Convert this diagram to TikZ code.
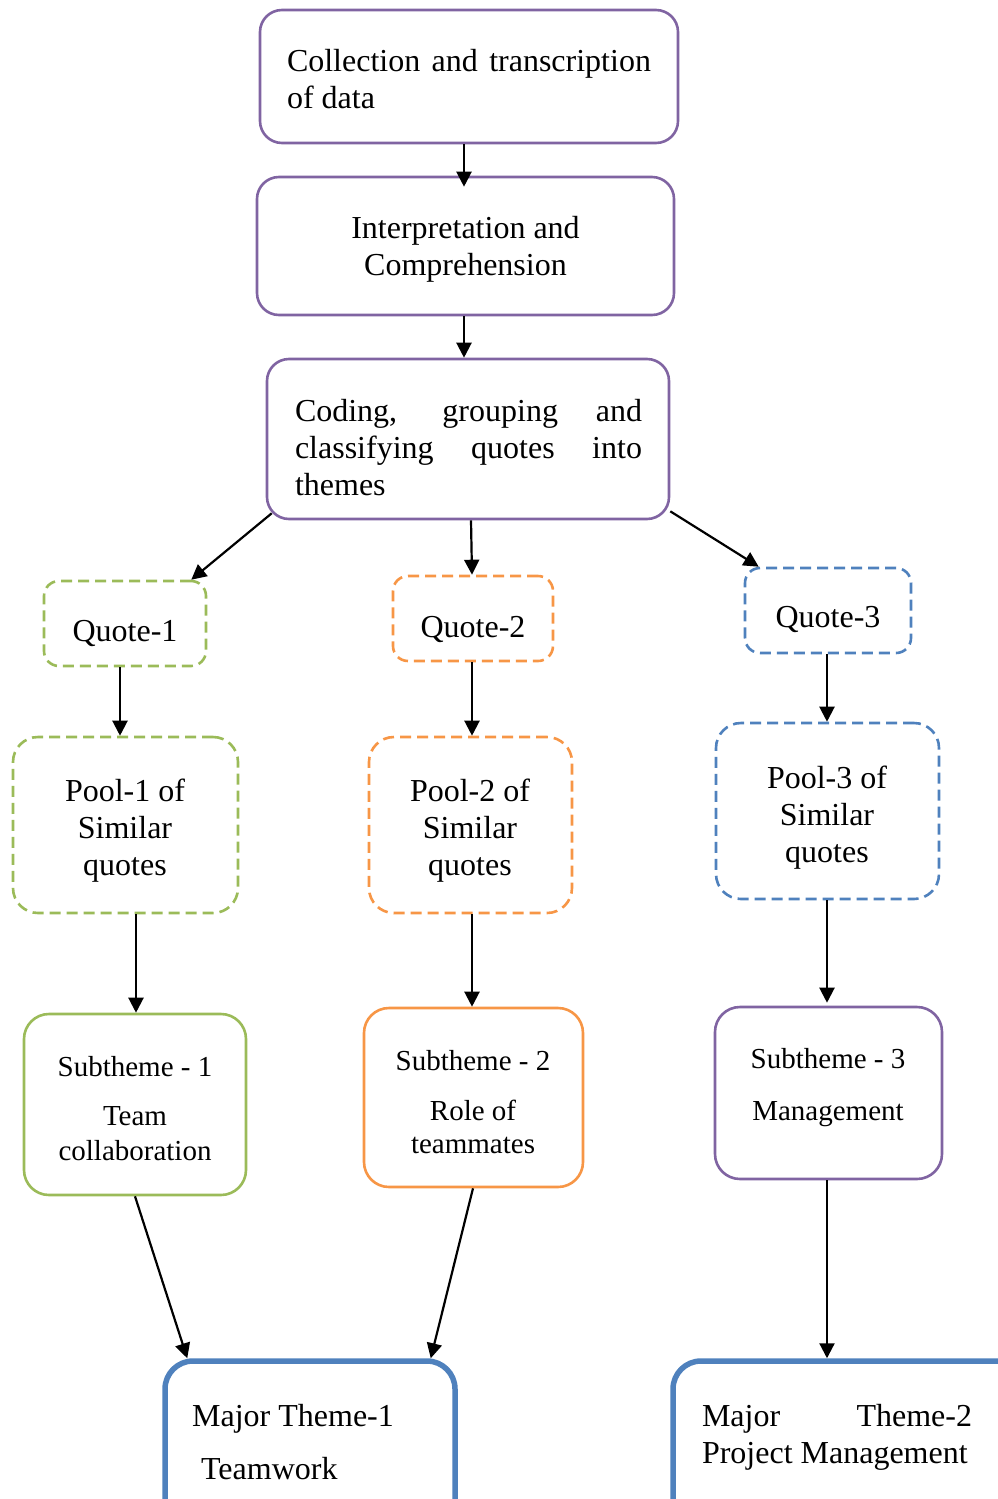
\documentclass[tikz,border=0pt]{standalone}
\usepackage{fontspec}
\setmainfont{Liberation Serif}
\usetikzlibrary{arrows.meta}
\definecolor{cpurple}{HTML}{8064A2}
\definecolor{cgreen}{HTML}{9BBB59}
\definecolor{corange}{HTML}{F79646}
\definecolor{cblue}{HTML}{4F81BD}
\newcommand\fsbig{\fontsize{32pt}{37pt}\selectfont}
\newcommand\fssub{\fontsize{29pt}{35pt}\selectfont}
\begin{document}
\begin{tikzpicture}[x=1pt,y=-1pt,
  box/.style={draw, line width=2.6pt, rounded corners=22pt, inner sep=0pt, fill=white},
  dbox/.style={box, dash pattern=on 11pt off 6pt},
  major/.style={draw=cblue, line width=5.5pt, rounded corners=28pt, inner sep=0pt, fill=white},
  txt/.style={inner sep=0pt, font=\fsbig},
  stxt/.style={inner sep=0pt, font=\fssub, align=center},
  conn/.style={-{Triangle[length=15pt,width=15pt]}, line width=2.2pt, black}
]
\useasboundingbox (0,0) rectangle (997,1499);

% process boxes
\node[box, draw=cpurple, minimum width=418pt, minimum height=133pt] (collect) at (469,76.5) {};
\node[box, draw=cpurple, minimum width=417pt, minimum height=138pt] (interp) at (465.5,246) {};
\node[box, draw=cpurple, minimum width=402pt, minimum height=160pt] (coding) at (468,439) {};

% quotes
\node[dbox, draw=cgreen, rounded corners=15pt, minimum width=162pt, minimum height=85pt] (q1) at (125,623.5) {};
\node[dbox, draw=corange, rounded corners=15pt, minimum width=160pt, minimum height=85pt] (q2) at (473,618.5) {};
\node[dbox, draw=cblue, rounded corners=15pt, minimum width=166pt, minimum height=85pt] (q3) at (828,610.5) {};

% pools
\node[dbox, draw=cgreen, rounded corners=25pt, minimum width=225pt, minimum height=176pt] (p1) at (125.5,825) {};
\node[dbox, draw=corange, rounded corners=25pt, minimum width=203pt, minimum height=176pt] (p2) at (470.5,825) {};
\node[dbox, draw=cblue, rounded corners=25pt, minimum width=223pt, minimum height=176pt] (p3) at (827.5,811) {};

% subthemes
\node[box, draw=cgreen, rounded corners=25pt, minimum width=222pt, minimum height=181pt] (s1) at (135,1104.5) {};
\node[box, draw=corange, rounded corners=25pt, minimum width=219pt, minimum height=179pt] (s2) at (473.5,1097.5) {};
\node[box, draw=cpurple, rounded corners=25pt, minimum width=227pt, minimum height=172pt] (s3) at (828.5,1093) {};

% major themes
\node[major, minimum width=290pt, minimum height=179pt] (mt1) at (310,1450.5) {};
\node[major, minimum width=357pt, minimum height=179pt] (mt2) at (851.5,1450.5) {};

% texts
\node[txt, align=left] (collect-t) at (469,79.5) {\makebox[364pt][s]{Collection and transcription}\\of data};
\node[txt, align=center] (interp-t) at (465.5,249.5) {Interpretation and\\Comprehension};
\node[txt, align=left] (coding-t) at (468.5,448) {\makebox[347pt][s]{Coding, grouping and}\\\makebox[347pt][s]{classifying quotes into}\\themes};
\node[txt] (q1-t) at (125,633) {Quote-1};
\node[txt] (q2-t) at (473,629) {Quote-2};
\node[txt] (q3-t) at (828,619) {Quote-3};
\node[txt, align=center] (p1-t) at (125,831) {Pool-1 of\\Similar\\quotes};
\node[txt, align=center] (p2-t) at (470,831) {Pool-2 of\\Similar\\quotes};
\node[txt, align=center] (p3-t) at (827,818) {Pool-3 of\\Similar\\quotes};
\node[stxt] (s1-t) at (135,1108.5) {Subtheme - 1\\[14pt]Team\\collaboration};
\node[stxt] (s2-t) at (473,1102.5) {Subtheme - 2\\[15pt]Role of\\[-2pt]teammates};
\node[stxt] (s3-t) at (828,1088) {Subtheme - 3\\[17pt]Management};
\node[txt, align=left] (mt1-t) at (293,1442) {Major Theme-1\\[16pt]\hspace*{9pt}Teamwork};
\node[txt, align=left] (mt2-t) at (837,1437.5) {\makebox[270pt][s]{Major Theme-2}\\Project Management};

% connectors
\draw[conn] ([xshift=-5pt]collect.south) -- ([shift={(-1.5pt,-11pt)}]interp.north);
\draw[conn] ([xshift=-1.5pt]interp.south) -- ([xshift=-4pt]coding.north);
\draw[conn] ([shift={(6pt,7pt)}]coding.south west) -- ([xshift=-16pt]q1.north east);
\draw[conn] ([xshift=3pt]coding.south) -- ([xshift=-1pt]q2.north);
\draw[conn] ([yshift=9pt]coding.south east) -- ([xshift=15pt]q3.north west);
\draw[conn] ([xshift=-5pt]q1.south) -- ([xshift=-5.5pt]p1.north);
\draw[conn] ([xshift=-1pt]q2.south) -- ([xshift=1.5pt]p2.north);
\draw[conn] ([xshift=-1pt]q3.south) -- ([xshift=-0.5pt]p3.north);
\draw[conn] ([xshift=10.5pt]p1.south) -- ([xshift=1pt]s1.north);
\draw[conn] ([xshift=1.5pt]p2.south) -- ([xshift=-1.5pt]s2.north);
\draw[conn] ([xshift=-0.5pt]p3.south) -- ([shift={(-1.5pt,3pt)}]s3.north);
\draw[conn] (s1.south) -- ([xshift=25pt]mt1.north west);
\draw[conn] ([xshift=-0.5pt]s2.south) -- ([xshift=-27pt]mt1.north east);
\draw[conn] ([xshift=-1.5pt]s3.south) -- ([xshift=-24.5pt]mt2.north);
\end{tikzpicture}
\end{document}
